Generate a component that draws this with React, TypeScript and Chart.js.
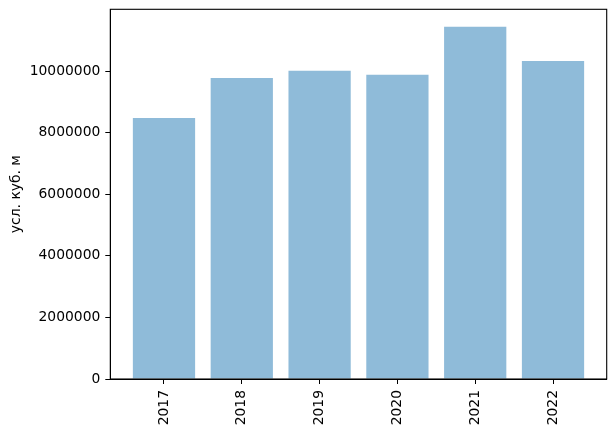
import React, { useEffect, useRef } from "react";
import { Chart, registerables } from "chart.js";

Chart.register(...registerables);

const categories = ["2017", "2018", "2019", "2020", "2021", "2022"];
const values = [8480000, 9780000, 10010000, 9880000, 11440000, 10330000];
const yTicks = [0, 2000000, 4000000, 6000000, 8000000, 10000000];
const yLabel = "усл. куб. м";

const FONT = "'DejaVu Sans', sans-serif";
const FS = 13.89;

const boxPlugin = {
  id: "box",
  afterDraw(chart: any) {
    const { ctx, chartArea } = chart;
    ctx.save();
    ctx.strokeStyle = "#000";
    ctx.lineWidth = 1.1;
    ctx.strokeRect(chartArea.left, chartArea.top, chartArea.right - chartArea.left, chartArea.bottom - chartArea.top);
    ctx.restore();
  },
};

export default function App() {
  const ref = useRef<HTMLCanvasElement>(null);
  useEffect(() => {
    const chart = new Chart(ref.current!, {
      type: "bar",
      data: {
        datasets: [
          {
            data: values.map((v, i) => ({ x: i, y: v })),
            backgroundColor: "rgba(31,119,180,0.5)",
            borderWidth: 0,
            barPercentage: 0.8,
            categoryPercentage: 1,
          },
        ],
      },
      options: {
        responsive: false,
        animation: false,
        layout: { padding: { left: 0, top: 9.3, right: 9.3, bottom: 0 } },
        plugins: { legend: { display: false }, tooltip: { enabled: false } },
        scales: {
          x: {
            type: "linear",
            min: -0.69,
            max: categories.length - 1 + 0.69,
            offset: false,
            afterBuildTicks: (s: any) => {
              s.ticks = categories.map((_, i) => ({ value: i }));
            },
            afterFit: (s: any) => {
              s.height = 55;
              s.paddingLeft = 0;
              s.paddingRight = 0;
            },
            ticks: {
              autoSkip: false,
              minRotation: 90,
              maxRotation: 90,
              padding: 6,
              color: "#000",
              font: { family: FONT, size: FS },
              callback: (v: any) => categories[Math.round(Number(v))] ?? "",
            },
            grid: { offset: false, drawOnChartArea: false, drawTicks: true, tickLength: 5, color: "#000", lineWidth: 1 },
            border: { display: true, color: "#000", width: 1 },
          },
          y: {
            min: 0,
            max: 12010000,
            afterBuildTicks: (s: any) => {
              s.ticks = yTicks.map((v) => ({ value: v }));
            },
            afterFit: (s: any) => {
              s.width = 110.3;
              s.paddingTop = 0;
              s.paddingBottom = 0;
            },
            ticks: {
              padding: 5,
              color: "#000",
              font: { family: FONT, size: FS },
              callback: (v: any) => String(v),
            },
            title: {
              display: true,
              text: yLabel,
              color: "#000",
              font: { family: FONT, size: FS },
              padding: { top: 8, bottom: 0 },
            },
            grid: { drawOnChartArea: false, drawTicks: true, tickLength: 5, color: "#000", lineWidth: 1 },
            border: { display: true, color: "#000", width: 1 },
          },
        },
      },
      plugins: [boxPlugin],
    });
    return () => chart.destroy();
  }, []);
  return (
    <div style={{ position: "fixed", left: 0, top: 0, width: 616, height: 434, background: "#fff" }}>
      <canvas ref={ref} width={616} height={434} style={{ width: 616, height: 434 }} />
    </div>
  );
}
